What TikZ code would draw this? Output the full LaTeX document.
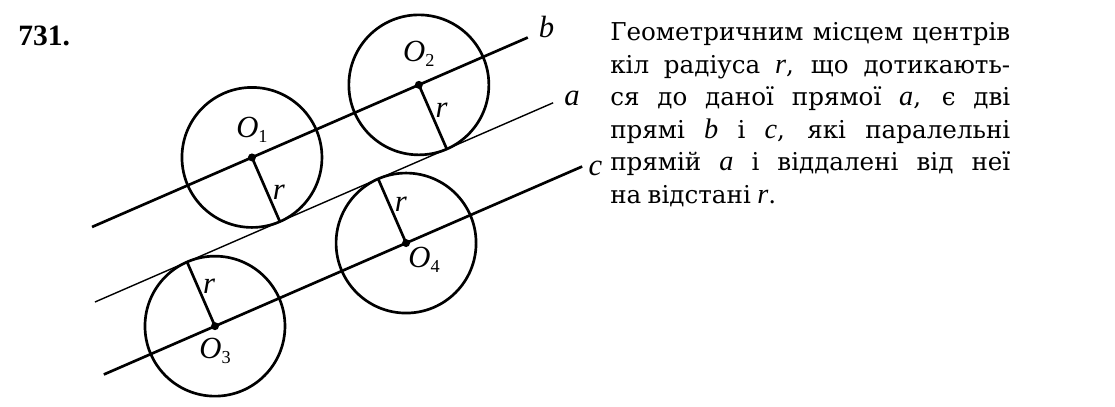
\documentclass[tikz,border=0pt]{standalone}
\usepackage{fontspec}
\setmainfont{DejaVu Serif}
\newfontfamily\numfont{Liberation Serif}
\newfontfamily\letfont[Scale=1.15]{Liberation Serif}
\usetikzlibrary{calc}
\newcommand\vr[1]{{\letfont\itshape #1}}
\newcommand\Opt[1]{\vr{O}\raisebox{-0.35ex}{\numfont\fontsize{13}{13}\selectfont #1}}

\begin{document}
\begin{tikzpicture}[
    locus/.style={line width=1.9pt},
    given/.style={line width=1pt},
    ring/.style={line width=1.9pt},
    lbl/.style={inner sep=0pt,font=\fontsize{19}{21}\selectfont},
    rlbl/.style={inner sep=3pt,font=\fontsize{19}{21}\selectfont}]
  \useasboundingbox (0,0) rectangle (27.875,10.15);
  \node[anchor=base west,inner sep=0pt,font=\numfont\bfseries\fontsize{21}{24}\selectfont] (num) at (0.45,9.025) {731.};
  \begin{scope}[shift={(2.375,2.6)},rotate=23.5]
    \coordinate (bS) at (0.68,1.75);
    \coordinate (bE) at (12.56,1.75);
    \coordinate (aS) at (0,0);
    \coordinate (aE) at (12.49,0);
    \coordinate (cS) at (-0.52,-1.75);
    \coordinate (cE) at (12.52,-1.75);
    \coordinate (O1) at (5.04,1.75);
    \coordinate (O2) at (9.59,1.75);
    \coordinate (O3) at (2.51,-1.75);
    \coordinate (O4) at (7.72,-1.75);
    \coordinate (T1) at (5.04,0);
    \coordinate (T2) at (9.59,0);
    \coordinate (T3) at (2.51,0);
    \coordinate (T4) at (7.72,0);
  \end{scope}
  \draw[locus] (bS) -- (bE);
  \draw[given] (aS) -- (aE);
  \draw[locus] (cS) -- (cE);
  \foreach \o in {O1,O2,O3,O4}
    \draw[ring] (\o) circle (1.75);
  \draw[ring] (O1) -- (T1) node[rlbl,pos=0.55,right] (r1) {\vr{r}};
  \draw[ring] (O2) -- (T2) node[rlbl,pos=0.4,right] (r2) {\vr{r}};
  \draw[ring] (O3) -- (T3) node[rlbl,pos=0.62,right] (r3) {\vr{r}};
  \draw[ring] (O4) -- (T4) node[rlbl,pos=0.6,right] (r4) {\vr{r}};
  \foreach \o in {O1,O2,O3,O4}
    \fill (\o) circle (0.1);
  \node[lbl] (lb) at ($(bE)+(0.47,0.26)$) {\vr{b}};
  \node[lbl] (la) at ($(aE)+(0.47,0.12)$) {\vr{a}};
  \node[lbl] (lc) at ($(cE)+(0.33,-0.05)$) {\vr{c}};
  \node[lbl] (lO1) at ($(O1)+(0,0.7)$) {\Opt{1}};
  \node[lbl] (lO2) at ($(O2)+(0,0.78)$) {\Opt{2}};
  \node[lbl] (lO3) at ($(O3)+(0,-0.62)$) {\Opt{3}};
  \node[lbl] (lO4) at ($(O4)+(0.45,-0.42)$) {\Opt{4}};
  \node[anchor=north west,inner sep=0pt,text width=10cm,align=justify,
        font=\fontsize{17.5}{23.2}\selectfont] (txt) at (15.25,9.6)
    {\hyphenpenalty=10000 \spaceskip=0.26em plus 1em minus 0.1em
     Геометричним місцем центрів\linebreak
     кіл радіуса \vr{r}, що дотикають-\linebreak
     ся до даної прямої \vr{a}, є дві\linebreak
     прямі \vr{b} і \vr{c}, які паралельні\linebreak
     прямій \vr{a} і віддалені від неї\linebreak
     на відстані \vr{r}.};
\end{tikzpicture}
\end{document}
